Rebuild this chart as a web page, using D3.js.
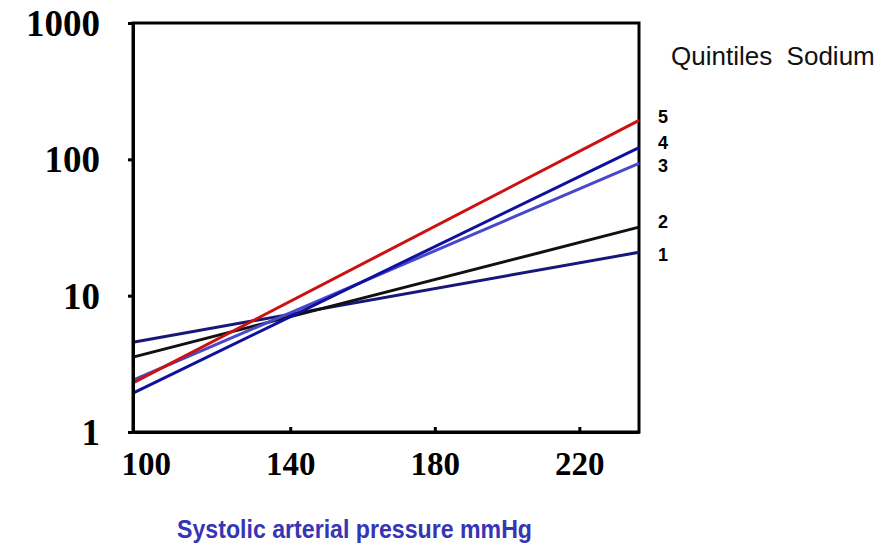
<!DOCTYPE html>
<html>
<head>
<meta charset="utf-8">
<script src="https://cdn.jsdelivr.net/npm/d3@7"></script>
<style>
  body { margin: 0; background: #fff; }
  svg { display: block; }
</style>
</head>
<body>
<script>
const w = 885, h = 546;
const margin = {top: 23, right: 246, bottom: 114, left: 133};

// data
const quintiles = ["1", "2", "3", "4", "5"];
const pressureRange = [96.5, 236.5];       // systolic pressure at the two ends of each line
const riskStart = [4.56, 3.54, 2.40, 1.93, 2.29];
const riskEnd = [20.8, 31.8, 93.5, 122, 193];
const xTicks = [100, 140, 180, 220];
const yTicks = [1, 10, 100, 1000];
const colors = ["#17177a", "#111111", "#4848cc", "#10109e", "#cc1111"];

const svg = d3.select("body")
  .append("svg")
  .attr("width", w)
  .attr("height", h);

const xScale = d3.scaleLinear()
  .domain(pressureRange)
  .range([margin.left, w - margin.right]);
const yScale = d3.scaleLog()
  .domain([1, 1000])
  .range([h - margin.bottom, margin.top]);

const series = quintiles.map((q, i) => ({
  q: q,
  pts: [[pressureRange[0], riskStart[i]], [pressureRange[1], riskEnd[i]]]
}));

const line = d3.line()
  .x(d => xScale(d[0]))
  .y(d => yScale(d[1]));

// frame
svg.append("rect")
  .attr("x", margin.left)
  .attr("y", margin.top)
  .attr("width", w - margin.left - margin.right)
  .attr("height", h - margin.top - margin.bottom)
  .attr("fill", "none")
  .attr("stroke", "#000")
  .attr("stroke-width", 3);

// lines (draw 1..5 so red ends on top)
svg.selectAll(".series")
  .data(series)
  .enter()
  .append("path")
  .attr("class", "series")
  .attr("d", d => line(d.pts))
  .attr("fill", "none")
  .attr("stroke", (d, i) => colors[i])
  .attr("stroke-width", 3);

// X axis
const xAxis = d3.axisBottom(xScale)
  .tickValues(xTicks)
  .tickFormat(d3.format("d"))
  .tickSizeInner(-5)
  .tickSizeOuter(0)
  .tickPadding(12);

const gx = svg.append("g")
  .attr("id", "x-axis")
  .attr("transform", "translate(0," + (h - margin.bottom) + ")")
  .call(xAxis);
gx.select(".domain").attr("stroke-width", 3);
gx.selectAll(".tick line")
  .attr("stroke-width", 3)
  .attr("opacity", d => d === 100 ? 0 : 1);
gx.selectAll(".tick text")
  .attr("dy", "0.71em")
  .attr("y", 20)
  .style("font-family", "'Liberation Serif', 'Times New Roman', serif")
  .style("font-weight", "bold")
  .style("font-size", "33px")
  .attr("fill", "#000");

// Y axis
const yAxis = d3.axisLeft(yScale)
  .tickValues(yTicks)
  .tickFormat(d3.format("d"))
  .tickSizeInner(5)
  .tickSizeOuter(0)
  .tickPadding(28);

const gy = svg.append("g")
  .attr("id", "y-axis")
  .attr("transform", "translate(" + margin.left + ",0)")
  .call(yAxis);
gy.select(".domain").attr("stroke-width", 3);
gy.selectAll(".tick line").attr("stroke-width", 3);
gy.selectAll(".tick text")
  .style("font-family", "'Liberation Serif', 'Times New Roman', serif")
  .style("font-weight", "bold")
  .style("font-size", "37px")
  .attr("dy", "0.34em")
  .attr("fill", "#000");

// quintile labels at the right end
svg.selectAll(".qlabel")
  .data(series)
  .enter()
  .append("text")
  .attr("class", "qlabel")
  .attr("x", 663)
  .attr("y", (d, i) => [255, 222, 166, 143, 117][i])
  .attr("dy", "0.36em")
  .attr("text-anchor", "middle")
  .style("font-family", "'Liberation Sans', Arial, sans-serif")
  .style("font-weight", "bold")
  .style("font-size", "18px")
  .text(d => d.q);

// legend title
svg.append("text")
  .attr("x", 671)
  .attr("y", 65)
  .style("font-family", "'Liberation Sans', Arial, sans-serif")
  .style("font-size", "26px")
  .style("white-space", "pre")
  .attr("fill", "#111")
  .text("Quintiles  Sodium");

// axis title
svg.append("text")
  .attr("x", 177)
  .attr("y", 538)
  .attr("textLength", 355)
  .attr("lengthAdjust", "spacingAndGlyphs")
  .style("font-family", "'Liberation Sans Narrow', 'Arial Narrow', 'Liberation Sans', sans-serif")
  .style("font-weight", "bold")
  .style("font-size", "25px")
  .attr("fill", "#3535b5")
  .text("Systolic arterial pressure mmHg");
</script>
</body>
</html>
